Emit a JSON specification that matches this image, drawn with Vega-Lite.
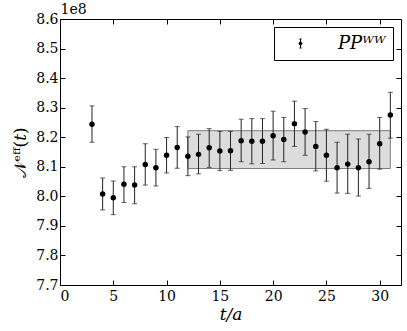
{
  "$schema": "https://vega.github.io/schema/vega-lite/v6.json",
  "width": 341,
  "height": 266,
  "padding": {"left": 60, "top": 19, "right": 6, "bottom": 46},
  "autosize": {"type": "none"},
  "background": "white",
  "config": {
    "view": {"stroke": "black", "strokeWidth": 1},
    "font": "DejaVu Serif",
    "axis": {
      "grid": false,
      "domain": false,
      "tickColor": "black",
      "tickSize": -5,
      "labelFont": "DejaVu Serif",
      "labelFontSize": 14,
      "labelColor": "black",
      "titleColor": "black",
      "titleFontWeight": "normal"
    }
  },
  "datasets": {
    "band": [{"x1": 12, "x2": 31, "lo": 8.094, "hi": 8.222}],
    "pts": [
      {"t": 3, "v": 8.244, "lo": 8.183, "hi": 8.306},
      {"t": 4, "v": 8.008, "lo": 7.954, "hi": 8.062},
      {"t": 5, "v": 7.995, "lo": 7.938, "hi": 8.052},
      {"t": 6, "v": 8.041, "lo": 7.979, "hi": 8.100},
      {"t": 7, "v": 8.038, "lo": 7.975, "hi": 8.100},
      {"t": 8, "v": 8.108, "lo": 8.038, "hi": 8.178},
      {"t": 9, "v": 8.097, "lo": 8.035, "hi": 8.159},
      {"t": 10, "v": 8.139, "lo": 8.079, "hi": 8.199},
      {"t": 11, "v": 8.165, "lo": 8.095, "hi": 8.236},
      {"t": 12, "v": 8.136, "lo": 8.070, "hi": 8.201},
      {"t": 13, "v": 8.142, "lo": 8.076, "hi": 8.210},
      {"t": 14, "v": 8.164, "lo": 8.098, "hi": 8.229},
      {"t": 15, "v": 8.153, "lo": 8.087, "hi": 8.220},
      {"t": 16, "v": 8.154, "lo": 8.088, "hi": 8.220},
      {"t": 17, "v": 8.188, "lo": 8.117, "hi": 8.261},
      {"t": 18, "v": 8.186, "lo": 8.110, "hi": 8.263},
      {"t": 19, "v": 8.186, "lo": 8.111, "hi": 8.263},
      {"t": 20, "v": 8.205, "lo": 8.123, "hi": 8.288},
      {"t": 21, "v": 8.192, "lo": 8.117, "hi": 8.267},
      {"t": 22, "v": 8.246, "lo": 8.169, "hi": 8.322},
      {"t": 23, "v": 8.218, "lo": 8.139, "hi": 8.297},
      {"t": 24, "v": 8.169, "lo": 8.086, "hi": 8.253},
      {"t": 25, "v": 8.139, "lo": 8.051, "hi": 8.227},
      {"t": 26, "v": 8.097, "lo": 8.011, "hi": 8.183},
      {"t": 27, "v": 8.109, "lo": 8.010, "hi": 8.210},
      {"t": 28, "v": 8.097, "lo": 8.001, "hi": 8.194},
      {"t": 29, "v": 8.117, "lo": 8.027, "hi": 8.210},
      {"t": 30, "v": 8.178, "lo": 8.092, "hi": 8.267},
      {"t": 31, "v": 8.275, "lo": 8.197, "hi": 8.352}
    ]
  },
  "layer": [
    {
      "data": {"name": "band"},
      "mark": {"type": "rect", "fill": "#dcdcdc", "stroke": "#7a7a7a", "strokeWidth": 1},
      "encoding": {
        "x": {"field": "x1", "type": "quantitative", "scale": {"domain": [0, 32], "nice": false},
          "axis": {"orient": "bottom", "values": [0, 5, 10, 15, 20, 25, 30], "title": "t/a", "titleFontSize": 17, "titleFontStyle": "italic", "titleFont": "DejaVu Serif", "labelPadding": 9, "titlePadding": 3}},
        "x2": {"field": "x2"},
        "y": {"field": "lo", "type": "quantitative", "scale": {"domain": [7.7, 8.6], "nice": false, "zero": false},
          "axis": {"orient": "left", "values": [7.7, 7.8, 7.9, 8.0, 8.1, 8.2, 8.3, 8.4, 8.5, 8.6], "format": ".1f", "title": "𝒩ᵉᶠᶠ(𝑡)", "titleFontSize": 17, "titleFont": "DejaVu Serif", "labelPadding": 7, "titlePadding": 6}},
        "y2": {"field": "hi"}
      }
    },
    {
      "data": {"name": "pts"},
      "mark": {"type": "errorbar", "ticks": {"size": 5, "thickness": 1}, "color": "#222", "thickness": 1},
      "encoding": {
        "x": {"field": "t", "type": "quantitative", "axis": null},
        "y": {"field": "lo", "type": "quantitative", "axis": null},
        "y2": {"field": "hi"}
      }
    },
    {
      "data": {"name": "pts"},
      "mark": {"type": "point", "filled": true, "opacity": 1, "size": 30, "shape": "circle"},
      "encoding": {
        "x": {"field": "t", "type": "quantitative",
          "axis": {"orient": "top", "values": [0, 5, 10, 15, 20, 25, 30], "labels": false, "title": "1e8", "titleAnchor": "start", "titleAlign": "left", "titleFontSize": 14, "titlePadding": 2, "titleFont": "DejaVu Serif"}},
        "y": {"field": "v", "type": "quantitative",
          "axis": {"orient": "right", "values": [7.7, 7.8, 7.9, 8.0, 8.1, 8.2, 8.3, 8.4, 8.5, 8.6], "labels": false, "title": null}},
        "color": {"datum": "PPᵂᵂ", "type": "nominal", "scale": {"range": ["black"]},
          "legend": {"title": null, "orient": "top-right", "offset": 8, "padding": 7, "strokeColor": "black", "fillColor": "white",
            "symbolType": "M0,-0.5V0.5M-0.12,-0.5H0.12M-0.12,0.5H0.12M-0.17,0A0.17,0.17 0 1,0 0.17,0A0.17,0.17 0 1,0 -0.17,0Z",
            "symbolSize": 324, "symbolFillColor": "black", "symbolStrokeColor": "black", "symbolStrokeWidth": 1,
            "symbolOffset": 10, "labelOffset": 28,
            "labelFont": "DejaVu Serif", "labelFontSize": 18, "labelFontStyle": "italic", "labelFontWeight": "normal", "labelColor": "black"}}
      }
    }
  ],
  "resolve": {"axis": {"x": "independent", "y": "independent"}}
}
